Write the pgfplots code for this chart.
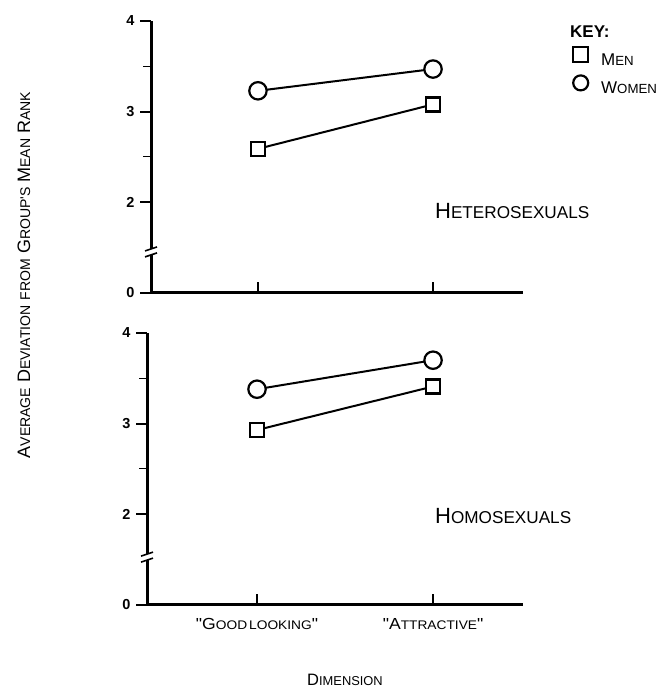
\documentclass[border=0pt]{standalone}
\usepackage{fontspec}
\setmainfont{Liberation Sans}[Ligatures=TeXOff]
\usepackage{graphicx}
\usepackage{pgfplots}
\pgfplotsset{compat=1.18}

% fake small caps: big first letter, rest scaled down
\newcommand{\fsc}[2]{#1\scalebox{0.78}{#2}}

\pgfplotsset{
  panel/.style={
    scale only axis, height=272pt,
    axis x line*=bottom, axis y line*=left,
    axis line style={black, line width=3pt},
    ymin=1, ymax=4,
    ytick={1,2,3,4}, yticklabels={0,2,3,4},
    minor ytick={2.5,3.5},
    xtick={1,2},
    major tick style={black, line width=2.2pt},
    minor tick style={black, line width=1pt},
    major tick length=11pt, minor tick length=8pt,
    xtick align=inside, ytick align=outside,
    /pgf/number format/assume math mode=true,
    yticklabel style={font=\bfseries\fontsize{14.5}{14.5}\selectfont, xshift=-2pt},
    clip=false,
  },
  men/.style={black, line width=2pt, mark=square*, mark size=7pt,
    mark options={fill=white, line width=2.2pt}},
  women/.style={black, line width=2pt, mark=*, mark size=8.7pt,
    mark options={fill=white, line width=2.2pt}},
}

\begin{document}
\begin{tikzpicture}[x=1pt, y=1pt]
\useasboundingbox (0,0) rectangle (662,692);

% upper panel: heterosexuals
\begin{axis}[panel, at={(151pt,399pt)}, anchor=south west,
  width=372pt, xmin=0.389, xmax=2.514,
  xticklabels={},
  legend style={draw=none, fill=none, inner sep=0pt, row sep=8pt,
    at={(rel axis cs:1.1317,0.982)}, anchor=north west,
    font=\fontsize{17}{17}\selectfont,
    nodes={inner sep=0pt},
    /tikz/every odd column/.append style={column sep=13pt}},
  legend cell align=left,
  legend image code/.code={\draw[#1] plot[only marks, mark size=7.5pt] coordinates {(8.5pt,6pt)};},
]
\addlegendimage{empty legend}
\addlegendentry{\hspace*{-31pt}\textbf{KEY:}\rule[-13pt]{0pt}{13pt}}
\addplot[men] coordinates {(1,2.59) (2,3.08)};
\addlegendentry{\fsc{M}{EN}}
\addplot[women] coordinates {(1,3.23) (2,3.47)};
\addlegendentry{\fsc{W}{OMEN}}
\node[anchor=base west, inner sep=0pt, font=\fontsize{22}{22}\selectfont] at (axis cs:2.011,1.82) {\fsc{H}{ETEROSEXUALS}};
\fill[white] ([xshift=-4pt]rel axis cs:0,0.14) rectangle ([xshift=4pt]rel axis cs:0,0.162);
\draw[line width=1.6pt] ([xshift=-6pt,yshift=-2pt]rel axis cs:0,0.14) -- ([xshift=6pt,yshift=2pt]rel axis cs:0,0.14);
\draw[line width=1.6pt] ([xshift=-6pt,yshift=-2pt]rel axis cs:0,0.162) -- ([xshift=6pt,yshift=2pt]rel axis cs:0,0.162);
\end{axis}

% lower panel: homosexuals
\begin{axis}[panel, at={(147pt,87pt)}, anchor=south west,
  width=376pt, xmin=0.375, xmax=2.511,
  xticklabels={\scalebox{1.1}[1]{"\fsc{G}{OOD\hspace{0.15em}LOOKING}"}, \scalebox{1.1}[1]{"\fsc{A}{TTRACTIVE}"}},
  xticklabel style={font=\fontsize{16}{16}\selectfont, yshift=-10pt},
]
\addplot[men] coordinates {(1,2.93) (2,3.41)};
\addplot[women] coordinates {(1,3.38) (2,3.70)};
\node[anchor=base west, inner sep=0pt, font=\fontsize{22}{22}\selectfont] at (axis cs:2.011,1.90) {\fsc{H}{OMOSEXUALS}};
\fill[white] ([xshift=-4pt]rel axis cs:0,0.165) rectangle ([xshift=4pt]rel axis cs:0,0.187);
\draw[line width=1.6pt] ([xshift=-6pt,yshift=-2pt]rel axis cs:0,0.165) -- ([xshift=6pt,yshift=2pt]rel axis cs:0,0.165);
\draw[line width=1.6pt] ([xshift=-6pt,yshift=-2pt]rel axis cs:0,0.187) -- ([xshift=6pt,yshift=2pt]rel axis cs:0,0.187);
\end{axis}

\node[rotate=90, font=\fontsize{18}{18}\selectfont] at (24,417)
  {\fsc{A}{VERAGE} \fsc{D}{EVIATION} \scalebox{0.78}{FROM} \fsc{G}{ROUP'S} \fsc{M}{EAN} \fsc{R}{ANK}};
\node[font=\fontsize{16.5}{17}\selectfont] at (345,12) {\fsc{D}{IMENSION}};
\end{tikzpicture}
\end{document}
